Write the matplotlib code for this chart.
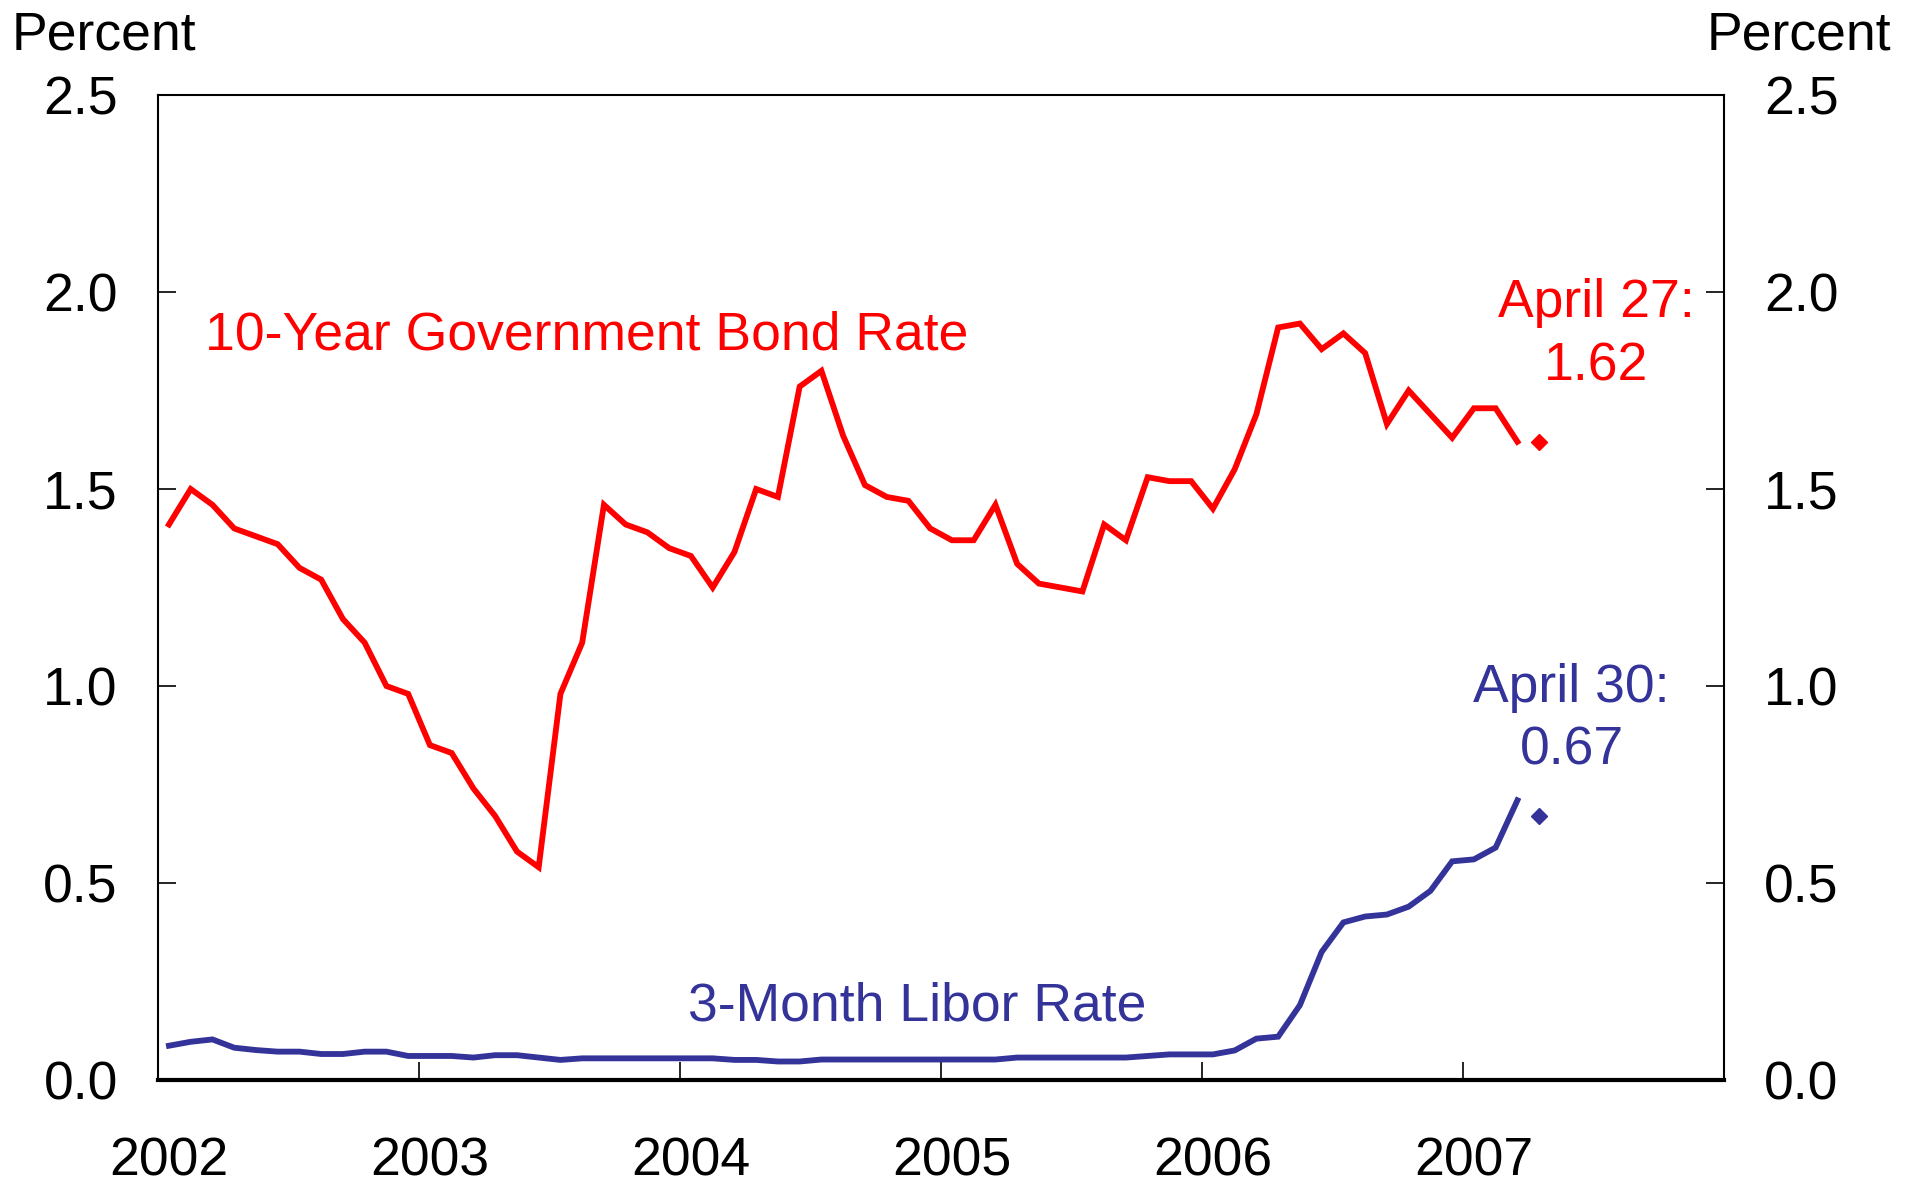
import numpy as np
import matplotlib
matplotlib.use("Agg")
import matplotlib.pyplot as plt

plt.rcParams["font.family"] = ["Liberation Sans", "DejaVu Sans"]

# Monthly averages, January 2002 through March 2007
start_year = 2002
bond_10y = [1.41, 1.50, 1.46, 1.40, 1.38, 1.36, 1.30, 1.27, 1.17, 1.11,
            1.00, 0.98, 0.85, 0.83, 0.74, 0.67, 0.58, 0.54, 0.98, 1.11,
            1.46, 1.41, 1.39, 1.35, 1.33, 1.25, 1.34, 1.50, 1.48, 1.76,
            1.80, 1.635, 1.51, 1.48, 1.47, 1.40, 1.37, 1.37, 1.46, 1.31,
            1.26, 1.25, 1.24, 1.41, 1.37, 1.53, 1.52, 1.52, 1.45, 1.55,
            1.69, 1.91, 1.92, 1.855, 1.895, 1.845, 1.665, 1.75, 1.69, 1.63,
            1.705, 1.705, 1.62]
libor_3m = [0.087, 0.097, 0.103, 0.082, 0.076, 0.072, 0.072, 0.066, 0.066, 0.072,
            0.072, 0.061, 0.061, 0.061, 0.057, 0.063, 0.063, 0.057, 0.051, 0.055,
            0.055, 0.055, 0.055, 0.055, 0.055, 0.055, 0.051, 0.051, 0.047, 0.047,
            0.052, 0.052, 0.052, 0.052, 0.052, 0.052, 0.052, 0.052, 0.052, 0.057,
            0.057, 0.057, 0.057, 0.057, 0.057, 0.061, 0.065, 0.065, 0.065, 0.075,
            0.105, 0.11, 0.19, 0.325, 0.40, 0.415, 0.42, 0.44, 0.48, 0.555,
            0.56, 0.59, 0.71]

# Latest daily readings (April 2007)
bond_latest = 1.62
libor_latest = 0.67
bond_latest_label = "April 27:\n1.62"
libor_latest_label = "April 30:\n0.67"

years = [2002, 2003, 2004, 2005, 2006, 2007]
y_ticks = [0.0, 0.5, 1.0, 1.5, 2.0, 2.5]

RED = "#FF0000"
BLUE = "#333399"
FS = 38.5

# Month midpoints on a fractional-year axis
x_month = start_year + (np.arange(len(bond_10y)) + 0.5) / 12.0
x_latest = start_year + (len(bond_10y) + 0.5) / 12.0

fig = plt.figure(figsize=(19.16, 11.85), dpi=100)
ax = fig.add_axes([0.0825, 0.0886, 0.8173, 0.8312])

ax.plot(x_month, bond_10y, color=RED, lw=4.2, solid_joinstyle="miter")
ax.plot(x_month, libor_3m, color=BLUE, lw=4.2, solid_joinstyle="miter")
ax.plot([x_latest], [bond_latest], marker="D", ms=8, color=RED, ls="none")
ax.plot([x_latest], [libor_latest], marker="D", ms=8, color=BLUE, ls="none")

ax.set_xlim(2002, 2008)
ax.set_ylim(0, 2.5)

# Year boundaries get tick marks; labels sit at mid-January
ax.set_xticks(years)
ax.set_xticklabels([])
ax.set_xticks([y + 1 / 24 for y in years], minor=True)
ax.set_xticklabels([str(y) for y in years], minor=True)
ax.tick_params(axis="x", which="major", direction="in", length=13, width=1.2)
ax.tick_params(axis="x", which="minor", length=0, pad=41, labelsize=FS)

ax.set_yticks(y_ticks)
ax.set_yticklabels([f"{v:.1f}" for v in y_ticks])
ax.tick_params(axis="y", which="major", direction="in", length=13, width=1.2,
               labelsize=FS, pad=29, left=True, right=True,
               labelleft=True, labelright=True)

for side in ["left", "right", "top"]:
    ax.spines[side].set_linewidth(1.5)
ax.spines["bottom"].set_linewidth(3.0)

fig.text(12 / 1916, 1 - 49 / 1185, "Percent", fontsize=FS, ha="left", va="baseline")
fig.text(1891 / 1916, 1 - 49 / 1185, "Percent", fontsize=FS, ha="right", va="baseline")

ax.text(2002.18, 1.89, "10-Year Government Bond Rate", color=RED, fontsize=FS,
        ha="left", va="center")
ax.text(2004.91, 0.186, "3-Month Libor Rate", color=BLUE, fontsize=FS,
        ha="center", va="center")
ax.text(2007.51, 1.892, bond_latest_label, color=RED, fontsize=FS,
        ha="center", va="center", multialignment="center", linespacing=1.33)
ax.text(2007.416, 0.915, libor_latest_label, color=BLUE, fontsize=FS,
        ha="center", va="center", multialignment="center", linespacing=1.33)

fig.savefig("out.png", dpi=100)
